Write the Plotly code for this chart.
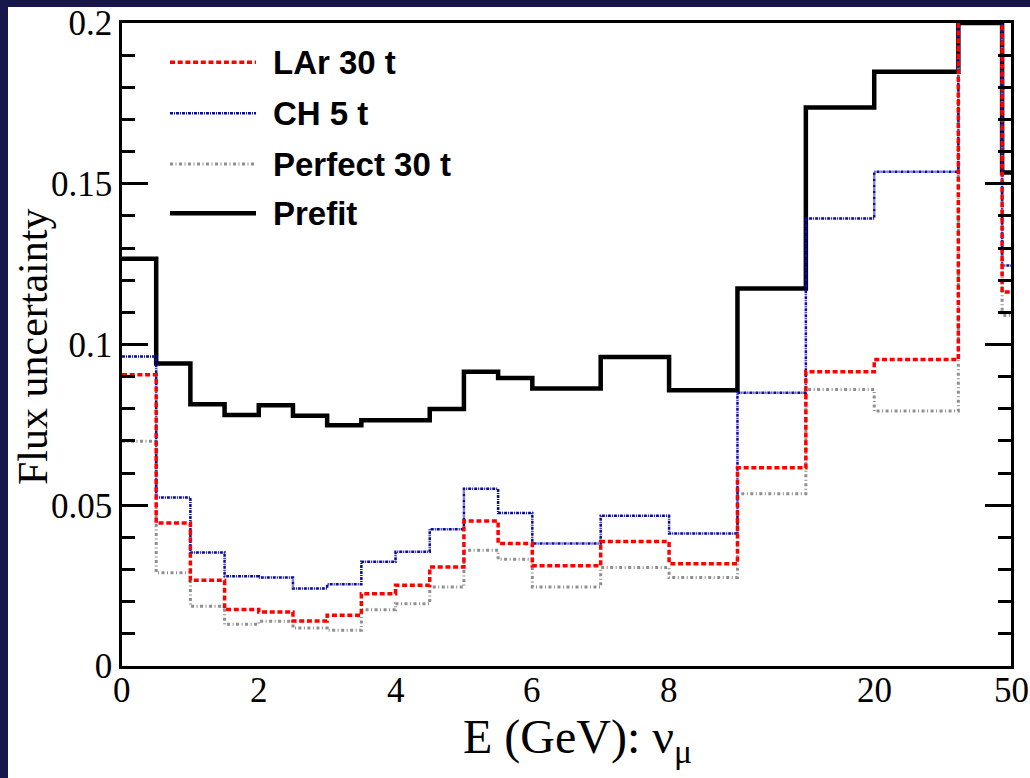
import plotly.graph_objects as go

# Bin edges on the display axis (0-8 GeV linear, then compressed high-energy bins)
bin_edges = [0, 0.5, 1, 1.5, 2, 2.5, 3, 3.5, 4, 4.5, 5, 5.5, 6,
             7, 8, 9, 10, 11, 12.23, 12.87, 13]
tick_pos = [0, 2, 4, 6, 8, 11, 13]
tick_text = ["0", "2", "4", "6", "8", "20", "50"]

prefit = [0.1267, 0.0941, 0.0814, 0.0781, 0.0811, 0.0778, 0.0749, 0.0764, 0.0764, 0.0799,
          0.0915, 0.0896, 0.0863, 0.0961, 0.0858, 0.1174, 0.1737, 0.1848, 0.2000, 0.1535]
ch_5t = [0.0963, 0.0524, 0.0353, 0.0279, 0.0275, 0.0241, 0.0254, 0.0324, 0.0355, 0.0425,
         0.0551, 0.0476, 0.0381, 0.0467, 0.0412, 0.0850, 0.1392, 0.1537, 0.2300, 0.1246]
lar_30t = [0.0906, 0.0445, 0.0267, 0.0176, 0.0168, 0.0140, 0.0158, 0.0225, 0.0251, 0.0308,
           0.0451, 0.0381, 0.0312, 0.0387, 0.0318, 0.0617, 0.0915, 0.0953, 0.2400, 0.1163]
perfect_30t = [0.0699, 0.0290, 0.0186, 0.0130, 0.0139, 0.0118, 0.0111, 0.0175, 0.0194, 0.0246,
               0.0360, 0.0332, 0.0246, 0.0306, 0.0275, 0.0536, 0.0860, 0.0793, 0.2200, 0.1090]

series = [
    # name, values, colour, width, dash
    ("Prefit", prefit, "#000000", 4.5, "solid"),
    ("Perfect 30 t", perfect_30t, "#8f8f8f", 3, "3px,2.5px,1px,2.5px"),
    ("CH 5 t", ch_5t, "#0c0ca0", 2.5, "3px,1px,1px,1px"),
    ("LAr 30 t", lar_30t, "#ff0000", 3.5, "5px,2.7px"),
]
legend_order = ["LAr 30 t", "CH 5 t", "Perfect 30 t", "Prefit"]

W, H = 1030, 778
L, R, T, B = 122, 19, 23, 112
pw, ph = W - L - R, H - T - B


def px_x(p):
    return (p - L) / pw


def px_y(p):
    return (H - B - p) / ph


fig = go.Figure()
for name, vals, col, w, dash in series:
    fig.add_trace(go.Scatter(
        x=bin_edges, y=list(vals) + [vals[-1]], mode="lines", line_shape="hv",
        line=dict(color=col, width=w, dash=dash), name=name, showlegend=False,
    ))

serif = "Liberation Serif"
axis_common = dict(showline=True, linecolor="black", linewidth=2.5, mirror=True,
                   showgrid=False, zeroline=False, automargin=False)

fig.update_xaxes(range=[0, 13], showticklabels=False, ticks="", **axis_common)
fig.update_yaxes(range=[0, 0.2], tickvals=[0, 0.05, 0.1, 0.15, 0.2],
                 ticktext=["0", "0.05", "0.1", "0.15", "0.2"],
                 ticks="inside", ticklen=26, tickwidth=3, tickcolor="black",
                 minor=dict(dtick=0.01, ticks="inside", ticklen=13, tickwidth=2.5,
                            tickcolor="black", showgrid=False),
                 tickfont=dict(family=serif, size=35, color="black"),
                 **{**axis_common, "mirror": "ticks"})

shapes = []
annotations = []

# Energy tick labels placed at their axis positions
for tp, tt in zip(tick_pos, tick_text):
    annotations.append(dict(xref="x", yref="paper", x=tp, y=px_y(690),
                            xanchor="center", yanchor="middle", showarrow=False,
                            text=tt, font=dict(family=serif, size=35, color="black")))

# Legend: line samples and bold labels
styles = {s[0]: s for s in series}
rows_y = [62.3, 113.3, 164.0, 213.3]
for nm, ry in zip(legend_order, rows_y):
    _, _, col, w, dash = styles[nm]
    shapes.append(dict(type="line", xref="paper", yref="paper",
                       x0=px_x(170), x1=px_x(256), y0=px_y(ry), y1=px_y(ry),
                       line=dict(color=col, width=w, dash=dash)))
    annotations.append(dict(xref="paper", yref="paper", x=px_x(271), y=px_y(ry),
                            xanchor="left", yanchor="middle", showarrow=False,
                            text="<b>%s</b>" % nm,
                            font=dict(family="Liberation Sans", size=33, color="black")))

# Axis titles
annotations.append(dict(xref="paper", yref="paper", x=px_x(577), y=px_y(740),
                        xanchor="center", yanchor="middle", showarrow=False,
                        text="E (GeV): \u03bd<sub>\u03bc</sub>",
                        font=dict(family=serif, size=48, color="black")))
annotations.append(dict(xref="paper", yref="paper", x=px_x(33), y=px_y(347),
                        xanchor="center", yanchor="middle", showarrow=False, textangle=-90,
                        text="Flux uncertainty",
                        font=dict(family=serif, size=42, color="black")))

# Slide border around the canvas
navy = "#17174c"
shapes.append(dict(type="rect", xref="paper", yref="paper", layer="above",
                   x0=px_x(0), x1=px_x(W), y0=px_y(7), y1=px_y(0),
                   fillcolor=navy, line=dict(width=0)))
shapes.append(dict(type="rect", xref="paper", yref="paper", layer="above",
                   x0=px_x(0), x1=px_x(8), y0=px_y(H), y1=px_y(0),
                   fillcolor=navy, line=dict(width=0)))

fig.update_layout(width=W, height=H, margin=dict(l=L, r=R, t=T, b=B),
                  paper_bgcolor="white", plot_bgcolor="white",
                  shapes=shapes, annotations=annotations, showlegend=False)

fig.write_html("out.html")
